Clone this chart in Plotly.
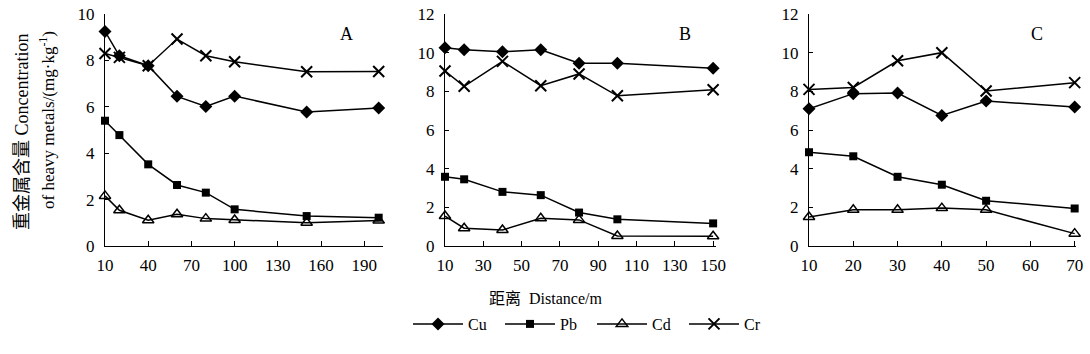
import plotly.graph_objects as go

# ---- data ----
dist_A = [10, 20, 40, 60, 80, 100, 150, 200]
cu_A = [9.25, 8.2, 7.77, 6.45, 6.01, 6.46, 5.78, 5.95]
pb_A = [5.4, 4.78, 3.52, 2.63, 2.3, 1.58, 1.29, 1.22]
cd_A = [2.16, 1.54, 1.11, 1.37, 1.18, 1.12, 1.0, 1.1]
cr_A = [8.3, 8.13, 7.77, 8.92, 8.2, 7.94, 7.51, 7.52]

dist_B = [10, 20, 40, 60, 80, 100, 150]
cu_B = [10.25, 10.15, 10.05, 10.15, 9.45, 9.45, 9.2]
pb_B = [3.58, 3.45, 2.8, 2.63, 1.73, 1.38, 1.17]
cd_B = [1.55, 0.92, 0.83, 1.43, 1.35, 0.52, 0.5]
cr_B = [9.05, 8.26, 9.55, 8.29, 8.9, 7.77, 8.08]

dist_C = [10, 20, 30, 40, 50, 70]
cu_C = [7.1, 7.88, 7.91, 6.75, 7.5, 7.19]
pb_C = [4.85, 4.64, 3.58, 3.17, 2.34, 1.94]
cd_C = [1.5, 1.87, 1.87, 1.96, 1.87, 0.64]
cr_C = [8.1, 8.2, 9.58, 10.0, 8.02, 8.45]

metals = ["Cu", "Pb", "Cd", "Cr"]
xticks_A = [10, 40, 70, 100, 130, 160, 190]
xticks_B = [10, 30, 50, 70, 90, 110, 130, 150]
xticks_C = [10, 20, 30, 40, 50, 60, 70]

# ---- styles ----
marker_styles = {
    "Cu": dict(symbol="diamond", size=10, color="black"),
    "Pb": dict(symbol="square", size=8, color="black"),
    "Cd": dict(symbol="triangle-up-open", size=10, color="black", line=dict(width=1.5, color="black")),
    "Cr": dict(symbol="x-thin-open", size=11, color="black", line=dict(width=2, color="black")),
}

panels = [
    ("A", dist_A, [cu_A, pb_A, cd_A, cr_A], "x", "y"),
    ("B", dist_B, [cu_B, pb_B, cd_B, cr_B], "x2", "y2"),
    ("C", dist_C, [cu_C, pb_C, cd_C, cr_C], "x3", "y3"),
]

fig = go.Figure()
for pi, (lab, xs, series, xa, ya) in enumerate(panels):
    for m, ys in zip(metals, series):
        fig.add_trace(go.Scatter(
            x=xs, y=ys, mode="lines+markers", name=m,
            line=dict(color="black", width=1.5),
            marker=marker_styles[m],
            xaxis=xa, yaxis=ya, cliponaxis=False,
            showlegend=(pi == 0),
        ))

font_fam = "Liberation Serif, Times New Roman, serif"
cjk_fam = "Liberation Serif, Noto Sans CJK SC, serif"
ydom = [1 - 246 / 354, 1 - 14 / 354]
xdoms = [[105 / 1090, 383 / 1090], [445 / 1090, 716 / 1090], [809 / 1090, 1076 / 1090]]
xranges = [[10, 203], [10, 151.5], [10, 70.3]]
yranges = [[0, 10], [0, 12], [0, 12]]
xtick_sets = [xticks_A, xticks_B, xticks_C]

common_x = dict(showline=True, linecolor="black", linewidth=1, ticks="inside", ticklen=5,
                tickcolor="black", showgrid=False, zeroline=False, ticklabelstandoff=4,
                automargin=False,
                tickfont=dict(family=font_fam, size=17, color="black"))
common_y = dict(showline=True, linecolor="black", linewidth=1, ticks="inside", ticklen=4,
                tickcolor="black", showgrid=False, zeroline=False, dtick=2, ticklabelstandoff=6,
                automargin=False,
                tickfont=dict(family=font_fam, size=17, color="black"))

layout_axes = {}
for i in range(3):
    sfx = "" if i == 0 else str(i + 1)
    xa = dict(common_x, domain=xdoms[i], range=xranges[i], tickvals=xtick_sets[i],
              anchor="y" + sfx)
    ya = dict(common_y, domain=ydom, range=yranges[i], anchor="x" + sfx)
    layout_axes["xaxis" + sfx] = xa
    layout_axes["yaxis" + sfx] = ya

annotations = [
    dict(text="A", x=338 / 1090, y=1 - 22 / 354, xref="paper", yref="paper", showarrow=False,
         font=dict(family=font_fam, size=18, color="black")),
    dict(text="B", x=685 / 1090, y=1 - 22 / 354, xref="paper", yref="paper", showarrow=False,
         font=dict(family=font_fam, size=18, color="black")),
    dict(text="C", x=1045 / 1090, y=1 - 22 / 354, xref="paper", yref="paper", showarrow=False,
         font=dict(family=font_fam, size=18, color="black")),
    dict(text="距离  Distance/m", x=545 / 1090, y=1 - 298 / 354, xref="paper", yref="paper",
         yanchor="middle", showarrow=False, font=dict(family=cjk_fam, size=16, color="black")),
    dict(text="重金属含量 Concentration", x=22 / 1090, y=1 - 132 / 354, xref="paper", yref="paper",
         xanchor="center", yanchor="middle", showarrow=False, textangle=-90,
         font=dict(family=cjk_fam, size=18, color="black")),
    dict(text="of heavy metals/(mg·kg<sup>-1</sup>)", x=47 / 1090, y=1 - 120 / 354, xref="paper",
         yref="paper", xanchor="center", yanchor="middle", showarrow=False, textangle=-90,
         font=dict(family=font_fam, size=17, color="black")),
]

fig.update_layout(
    width=1090, height=354,
    margin=dict(l=0, r=0, t=0, b=0, autoexpand=False),
    plot_bgcolor="white", paper_bgcolor="white",
    showlegend=True,
    legend=dict(orientation="h", x=408 / 1090, xanchor="left", y=1 - 324 / 354, yanchor="middle",
                font=dict(family=font_fam, size=16, color="black"), itemwidth=50,
                entrywidth=27, entrywidthmode="pixels",
                bgcolor="rgba(0,0,0,0)"),
    annotations=annotations,
    **layout_axes,
)

fig.write_html("out.html", config={"displayModeBar": False},
               post_script="document.body.style.margin='0';document.body.style.overflow='hidden';")
